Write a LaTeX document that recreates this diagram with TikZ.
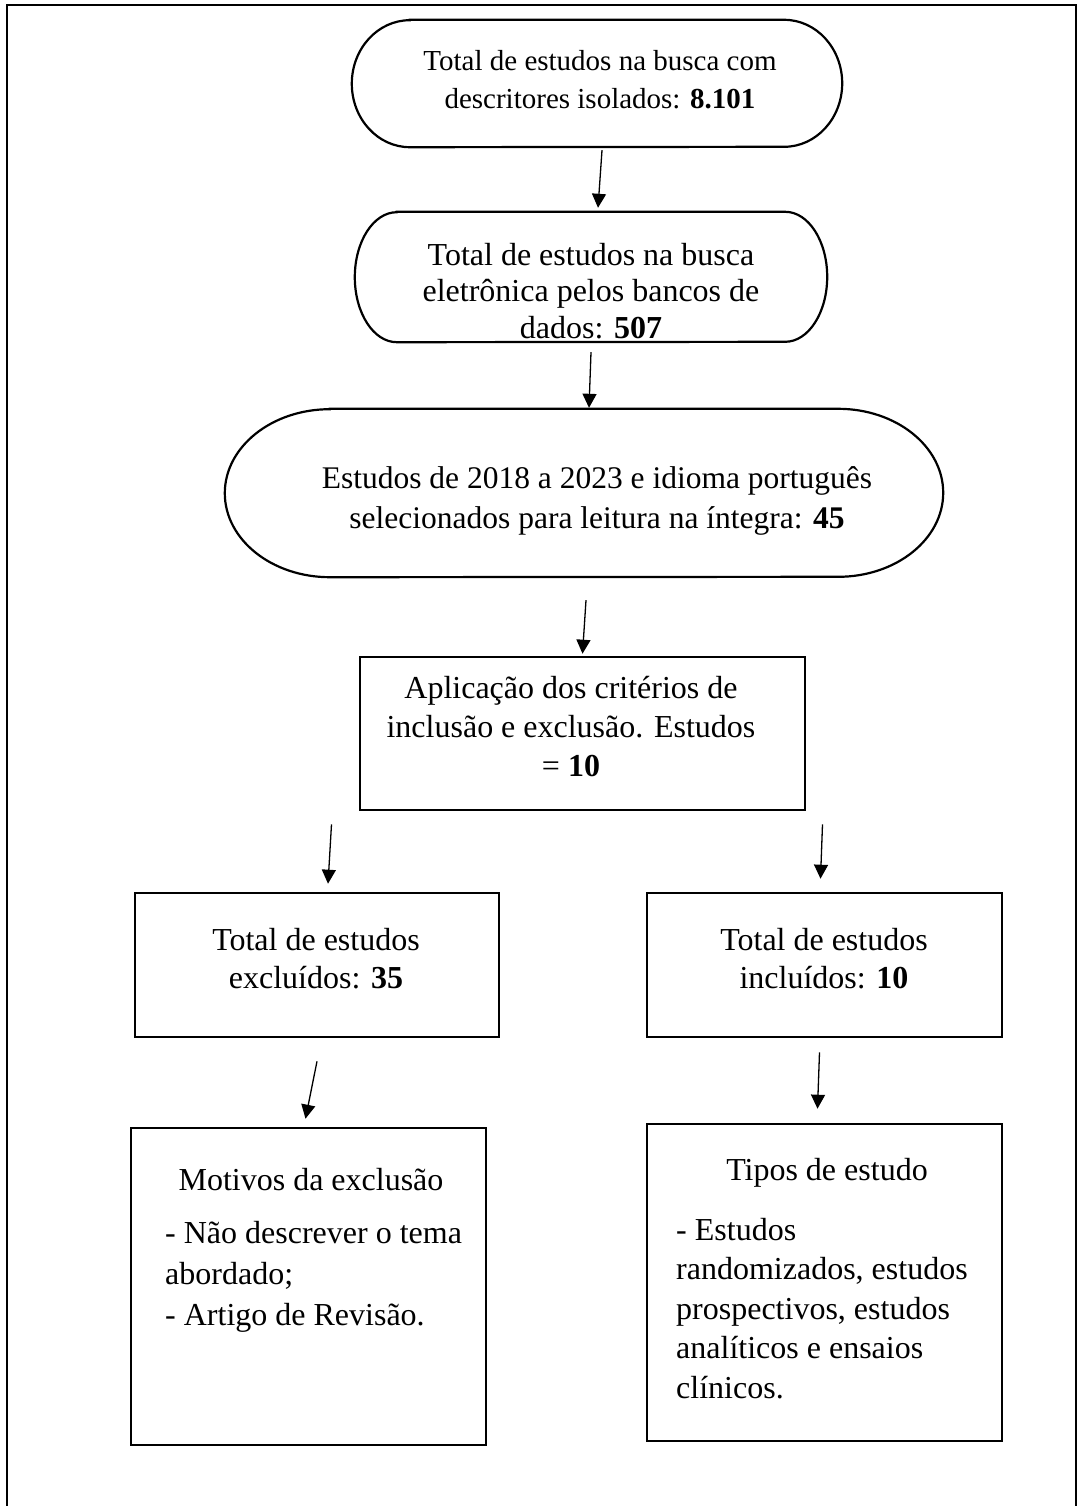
\documentclass[tikz,border=0pt]{standalone}
\usepackage{fontspec}
\setmainfont{Liberation Serif}
\usepackage{tikz}
\usetikzlibrary{arrows.meta,positioning,calc}
\tikzset{
  flowbox/.style={rectangle,draw,line width=2.6pt,inner sep=0pt},
  termbox/.style={rectangle,inner sep=0pt},
  termline/.style={line width=2.2pt},
  frameline/.style={line width=2.6pt},
  flowtext/.style={inner sep=0pt,align=center,anchor=north,font=\fontsize{32}{38}\selectfont},
  listtext/.style={flowtext,align=left,anchor=north west,font=\fontsize{32}{41}\selectfont},
  flowarrow/.style={-{Triangle[length=14pt,width=14pt]},line width=1.3pt}
}
% outline of a terminator shape round an empty node: name, x radius, y radius
\newcommand{\termoutline}[3]{%
  \draw[termline] ([xshift=#2]#1.north west) -- ([xshift=-#2]#1.north east)
    arc[start angle=90,end angle=-90,x radius=#2,y radius=#3]
    -- ([xshift=#2]#1.south west)
    arc[start angle=270,end angle=90,x radius=#2,y radius=#3] -- cycle;}

\begin{document}
\begin{tikzpicture}[x=1pt,y=1pt]
  \useasboundingbox (0,0) rectangle (1078,-1506);
  \draw[frameline] (7,-1540) |- (1076,-5) -- (1076,-1540);
  % terminator shapes
  \node[termbox,minimum width=490pt,minimum height=127pt] (busca) at (597,-83.5) {};
  \node[termbox,minimum width=472pt,minimum height=130pt] (bancos) at (591,-277) {};
  \node[termbox,minimum width=718pt,minimum height=168pt] (selecao) at (584,-493) {};
  \termoutline{busca}{58pt}{63.5pt}
  \termoutline{bancos}{42pt}{65pt}
  \termoutline{selecao}{105pt}{84pt}
  \node[flowtext,font=\fontsize{29}{38}\selectfont] (tbusca) at (600,-50)
    {Total de estudos na busca com\\descritores isolados: \textbf{8.101}};
  \node[flowtext,font=\fontsize{32}{36.5}\selectfont] (tbancos) at (591,-243)
    {Total de estudos na busca\\eletrônica pelos bancos de\\dados: \textbf{507}};
  \node[flowtext,font=\fontsize{31.5}{40}\selectfont] (tselecao) at (597,-466)
    {Estudos de 2018 a 2023 e idioma português\\selecionados para leitura na íntegra: \textbf{45}};
  % boxes
  \node[flowbox,minimum width=445pt,minimum height=153pt] (criterios) at (582.5,-733.5) {};
  \node[flowbox,minimum width=364pt,minimum height=144pt] (excluidos) at (317,-965) {};
  \node[flowbox,minimum width=355pt,minimum height=144pt] (incluidos) at (824.5,-965) {};
  \node[flowbox,minimum width=355pt,minimum height=317pt] (motivos) at (308.5,-1286.5) {};
  \node[flowbox,minimum width=355pt,minimum height=317pt] (tipos) at (824.5,-1282.5) {};
  \node[flowtext,font=\fontsize{32}{39}\selectfont] (tcriterios) at (571,-676)
    {Aplicação dos critérios de\\inclusão e exclusão. Estudos\\= \textbf{10}};
  \node[flowtext] (texcluidos) at (316,-928) {Total de estudos\\excluídos: \textbf{35}};
  \node[flowtext] (tincluidos) at (824,-928) {Total de estudos\\incluídos: \textbf{10}};
  \node[flowtext] (tmotivos) at (311,-1168) {Motivos da exclusão};
  \node[listtext] (lmotivos) at (165,-1221)
    {- Não descrever o tema\\abordado;\\- Artigo de Revisão.};
  \node[flowtext] (ttipos) at (827,-1158) {Tipos de estudo};
  \node[listtext,font=\fontsize{32}{39.5}\selectfont] (ltipos) at (676,-1218)
    {- Estudos\\randomizados, estudos\\prospectivos, estudos\\analíticos e ensaios\\clínicos.};
  % arrows
  \draw[flowarrow] ([xshift=5pt,yshift=-3pt]busca.south) -- ([xshift=7pt,yshift=4pt]bancos.north);
  \draw[flowarrow] ([yshift=-10pt]bancos.south) -- ([xshift=5pt,yshift=1pt]selecao.north);
  \draw[flowarrow] ([xshift=2pt,yshift=-23pt]selecao.south) -- ([yshift=2pt]criterios.north);
  \draw[flowarrow] ([xshift=-251pt,yshift=-13pt]criterios.south) -- ([xshift=11pt,yshift=8pt]excluidos.north);
  \draw[flowarrow] ([xshift=240pt,yshift=-13pt]criterios.south) -- ([xshift=-4pt,yshift=13pt]incluidos.north);
  \draw[flowarrow] ([yshift=-23pt]excluidos.south) -- ([xshift=-3pt,yshift=8pt]motivos.north);
  \draw[flowarrow] ([xshift=-5pt,yshift=-14pt]incluidos.south) -- ([xshift=-7pt,yshift=14pt]tipos.north);
\end{tikzpicture}
\end{document}
